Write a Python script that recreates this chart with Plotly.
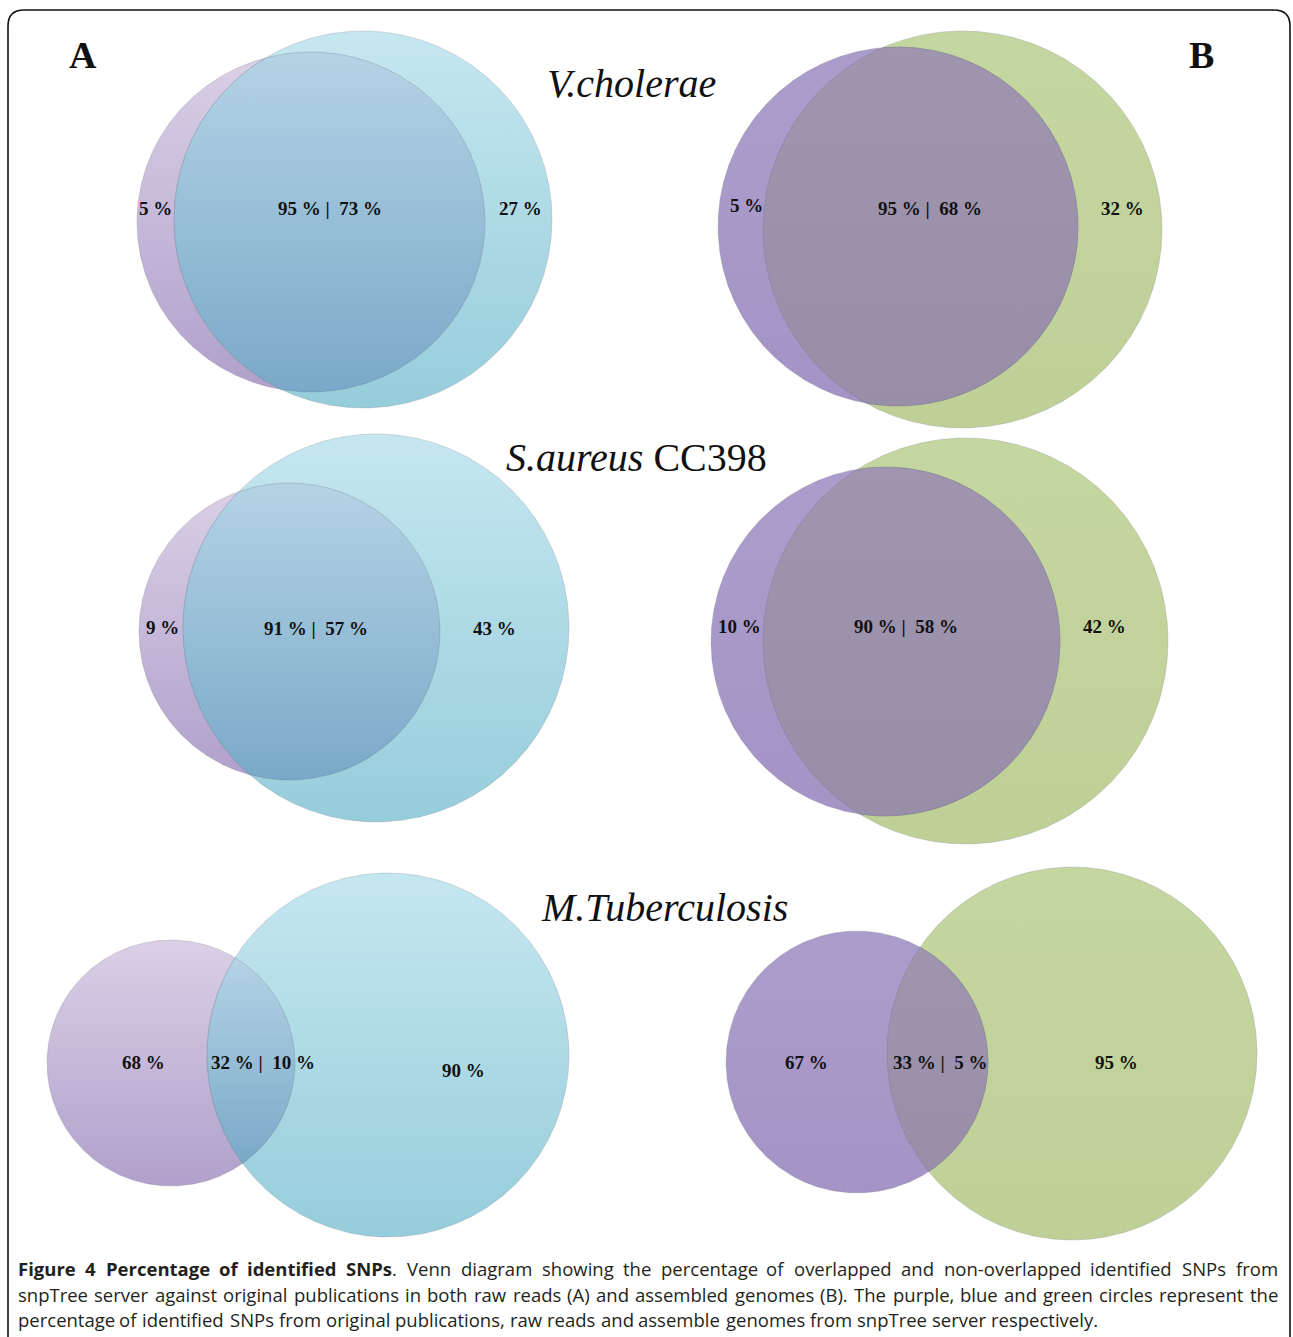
import re
import numpy as np
import plotly.graph_objects as go

W, H = 1293, 1337

# ---- data (percentages) ----
species = ["V.cholerae", "S.aureus", "M.Tuberculosis"]
species_suffix = ["", " CC398", ""]
panel_letters = ["A", "B"]
orig_only = [[5, 5], [9, 10], [68, 67]]        # purple-only share
overlap_orig = [[95, 95], [91, 90], [32, 33]]  # overlap share of original
overlap_snp = [[73, 68], [57, 58], [10, 5]]    # overlap share of snpTree
snp_only = [[27, 32], [43, 42], [90, 95]]      # blue/green-only share

caption_lines = [
    "<b>Figure 4 Percentage of identified SNPs</b>. Venn diagram showing the percentage of overlapped and non-overlapped identified SNPs from",
    "snpTree server against original publications in both raw reads (A) and assembled genomes (B). The purple, blue and green circles represent the",
    "percentage of identified SNPs from original publications, raw reads and assemble genomes from snpTree server respectively.",
]

# ---- layout geometry (pixel space) ----
purple_geom = [[(311, 222, 174, 170), (898, 226.5, 180, 179.5)],
               [(289.5, 631.5, 150.5, 148.5), (885.5, 641.5, 174.5, 174.5)],
               [(171, 1063, 124, 123), (857, 1062, 131, 131)]]
snp_geom = [[(363, 219.5, 189, 188.5), (962.5, 229.5, 199.5, 198.5)],
            [(376, 628, 193, 194), (965.5, 641, 202.5, 203)],
            [(388, 1055, 181, 182), (1072, 1053.5, 185, 186.5)]]
label_pos = [[((155, 208), (330, 208), (520, 208)), ((746, 205), (930, 208), (1122, 208))],
             [((162, 627), (316, 628), (494, 628)), ((739, 626), (906, 626), (1104, 626))],
             [((143, 1062), (263, 1062), (463, 1070)), ((806, 1062), (940, 1062), (1116, 1062))]]
title_pos = [(631, 83), (636, 457), (664, 907)]
letter_pos = [(83, 55), (1201, 55)]
cap_y = [1268, 1294, 1319]
cap_left = 18
cap_right = [1278, 1278, 1098]
cap_size = 18.5

styles = [
    {"purple": ("rgb(218,208,230)", "rgb(176,160,203)"),
     "other": ("rgb(197,231,240)", "rgb(150,205,219)"),
     "over": ("rgb(180,211,229)", "rgb(121,169,200)"),
     "top_first": "purple"},
    {"purple": ("rgb(171,157,203)", "rgb(164,148,198)"),
     "other": ("rgb(197,215,160)", "rgb(190,208,150)"),
     "over": ("rgb(159,149,175)", "rgb(152,142,168)"),
     "top_first": "other"},
]


def ellipse(g, n=721):
    cx, cy, rx, ry = g
    t = np.linspace(0, 2 * np.pi, n)
    return cx + rx * np.cos(t), cy + ry * np.sin(t)


def inside(x, y, g):
    cx, cy, rx, ry = g
    return ((x - cx) / rx) ** 2 + ((y - cy) / ry) ** 2 <= 1.0


def intersection(g1, g2):
    x1, y1 = ellipse(g1, 1441)
    x2, y2 = ellipse(g2, 1441)
    m1 = inside(x1, y1, g2)
    m2 = inside(x2, y2, g1)
    xs = np.concatenate([x1[m1], x2[m2]])
    ys = np.concatenate([y1[m1], y2[m2]])
    mx, my = xs.mean(), ys.mean()
    order = np.argsort(np.arctan2(ys - my, xs - mx))
    xs, ys = xs[order], ys[order]
    return np.append(xs, xs[0]), np.append(ys, ys[0])


def add_region(fig, xs, ys, cols, top, bottom, line_col):
    fig.add_trace(go.Scatter(
        x=xs, y=ys, mode="lines", fill="toself",
        line=dict(color=line_col, width=1),
        fillgradient=dict(type="vertical",
                          colorscale=[[0, cols[0]], [1, cols[1]]],
                          start=top, stop=bottom),
        hoverinfo="skip", showlegend=False))


fig = go.Figure()

for s in range(3):
    for p in range(2):
        st = styles[p]
        gp, gs = purple_geom[s][p], snp_geom[s][p]
        order = [("purple", gp), ("other", gs)] if st["top_first"] == "purple" else [("other", gs), ("purple", gp)]
        for name, g in order:
            xs, ys = ellipse(g)
            add_region(fig, xs, ys, st[name], g[1] - g[3], g[1] + g[3], "rgba(120,120,135,0.25)")
        ix, iy = intersection(gp, gs)
        add_region(fig, ix, iy, st["over"], iy.min(), iy.max(), "rgba(100,100,120,0.25)")

annotations = []
lab_font = dict(family="Liberation Serif", size=19, color="#111111")
for s in range(3):
    for p in range(2):
        (lx, ly), (ox, oy), (rx, ry) = label_pos[s][p]
        annotations.append(dict(x=lx, y=ly, text=f"<b>{orig_only[s][p]} %</b>", showarrow=False,
                                font=lab_font, xanchor="center", yanchor="middle"))
        annotations.append(dict(x=ox, y=oy, text=f"<b>{overlap_orig[s][p]} % |  {overlap_snp[s][p]} %</b>",
                                showarrow=False, font=lab_font, xanchor="center", yanchor="middle"))
        annotations.append(dict(x=rx, y=ry, text=f"<b>{snp_only[s][p]} %</b>", showarrow=False,
                                font=lab_font, xanchor="center", yanchor="middle"))

for s in range(3):
    tx, ty = title_pos[s]
    annotations.append(dict(x=tx, y=ty, text=f"<i>{species[s]}</i>{species_suffix[s]}", showarrow=False,
                            font=dict(family="Liberation Serif", size=40, color="#111111"),
                            xanchor="center", yanchor="middle"))

for p in range(2):
    lx, ly = letter_pos[p]
    annotations.append(dict(x=lx, y=ly, text=f"<b>{panel_letters[p]}</b>", showarrow=False,
                            font=dict(family="Liberation Serif", size=38, color="#111111"),
                            xanchor="center", yanchor="middle"))

# ---- justified caption (approximate Open Sans advance widths, units per em = 2048) ----
REG = {" ": 532, "(": 604, ")": 604, ",": 500, "-": 659, ".": 545,
       "A": 1296, "B": 1327, "F": 1057, "N": 1616, "P": 1260, "S": 1120, "T": 1147, "V": 1212,
       "a": 1139, "b": 1255, "c": 975, "d": 1255, "e": 1149, "f": 694, "g": 1122, "h": 1257,
       "i": 518, "j": 518, "k": 1075, "l": 518, "m": 1905, "n": 1257, "o": 1237, "p": 1255,
       "q": 1255, "r": 836, "s": 977, "t": 723, "u": 1257, "v": 1026, "w": 1593, "x": 1073,
       "y": 1028, "z": 954}
BOLD = {"F": 1200, "N": 1751, "P": 1358, "S": 1126, "4": 1171, "a": 1208, "b": 1296, "c": 1051,
        "d": 1296, "e": 1219, "f": 788, "g": 1153, "h": 1327, "i": 621, "n": 1327, "o": 1274,
        "p": 1296, "r": 932, "s": 1020, "t": 850, "u": 1327}


def char_w(ch, bold):
    if ch.isdigit():
        return 1171
    table = BOLD if bold else REG
    return table.get(ch, REG.get(ch, 1150))


def tokens(line):
    words = []
    bold = False
    for raw in line.split(" "):
        parts = re.split(r"(</?b>)", raw)
        segs = []
        for part in parts:
            if part == "<b>":
                bold = True
            elif part == "</b>":
                bold = False
            elif part:
                segs.append((part, bold))
        words.append(segs)
    return words


for i, line in enumerate(caption_lines):
    words = tokens(line)
    widths = [sum(char_w(c, b) for t, b in w for c in t) * cap_size / 2048 for w in words]
    gap = (cap_right[i] - cap_left - sum(widths)) / (len(words) - 1)
    x = cap_left
    for w, wd in zip(words, widths):
        txt = "".join(f"<b>{t}</b>" if b else t for t, b in w)
        annotations.append(dict(x=x + wd / 2, y=cap_y[i], text=txt, showarrow=False,
                                font=dict(family="Open Sans", size=cap_size, color="#231f20"),
                                xanchor="center", yanchor="middle"))
        x += wd + gap

frame = dict(type="path", xref="x", yref="y",
             path="M 8,1340 L 8,26 Q 8,10 24,10 L 1274,10 Q 1290,10 1290,26 L 1290,1340",
             line=dict(color="#111111", width=1.6))

fig.update_layout(
    width=W, height=H, autosize=False,
    margin=dict(l=0, r=0, t=0, b=0),
    paper_bgcolor="white", plot_bgcolor="white",
    xaxis=dict(range=[0, W], visible=False, fixedrange=True),
    yaxis=dict(range=[H, 0], visible=False, fixedrange=True),
    annotations=annotations, shapes=[frame],
)

fig.write_html("out.html", config={"displayModeBar": False},
               post_script="document.body.style.margin='0';document.body.style.overflow='hidden';")
